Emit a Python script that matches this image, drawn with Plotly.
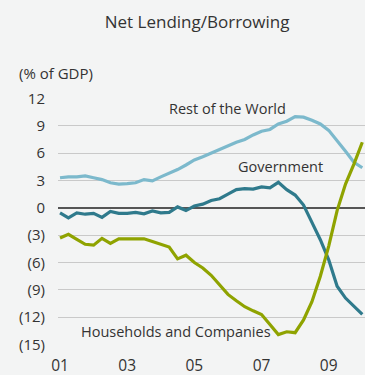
import plotly.graph_objects as go

quarters = [2001 + 0.25 * i for i in range(37)]

rest_of_world = [3.3, 3.4, 3.4, 3.5, 3.3, 3.1, 2.75, 2.6, 2.65, 2.75, 3.1, 2.95, 3.4,
                 3.8, 4.2, 4.7, 5.25, 5.6, 6.0, 6.35, 6.8, 7.2, 7.5, 8.0, 8.4, 8.6,
                 9.2, 9.5, 10.0, 9.95, 9.6, 9.2, 8.5, 7.4, 6.2, 5.0, 4.4]
government = [-0.55, -1.1, -0.55, -0.7, -0.6, -1.05, -0.4, -0.6, -0.6, -0.5, -0.65,
              -0.35, -0.55, -0.5, 0.1, -0.3, 0.2, 0.4, 0.8, 1.0, 1.5, 2.0, 2.1, 2.05,
              2.3, 2.2, 2.8, 2.0, 1.4, 0.3, -1.6, -3.5, -5.7, -8.6, -9.9, -10.8, -11.7]
households = [-3.3, -2.9, -3.45, -4.0, -4.1, -3.35, -3.9, -3.4, -3.4, -3.4, -3.4, -3.7,
              -4.0, -4.3, -5.6, -5.2, -6.0, -6.6, -7.4, -8.5, -9.5, -10.2, -10.85,
              -11.3, -11.7, -12.8, -13.9, -13.6, -13.7, -12.3, -10.3, -7.5, -4.2,
              -0.3, 2.6, 4.8, 7.2]

y_tickvals = [12, 9, 6, 3, 0, -3, -6, -9, -12, -15]
y_ticktext = ["12", "9", "6", "3", "0", "(3)", "(6)", "(9)", "(12)", "(15)"]
x_tickvals = [2001, 2003, 2005, 2007, 2009]
x_ticktext = ["01", "03", "05", "07", "09"]

series_names = ["Rest of the World", "Government", "Households and Companies"]
colors = ["#7cb9cc", "#2f7a8c", "#8fa300"]

font = "Open Sans"
txt = "#333333"
bg = "#f3f4f4"

fig = go.Figure()
for name, vals, c in zip(series_names, [rest_of_world, government, households], colors):
    fig.add_trace(go.Scatter(x=quarters, y=vals, mode="lines", name=name,
                             line=dict(color=c, width=3.2), showlegend=False))

fig.update_layout(
    width=365, height=375,
    margin=dict(l=58, r=0, t=98, b=30),
    paper_bgcolor=bg, plot_bgcolor=bg,
    font=dict(family=font, size=13, color=txt),
    title=dict(text="Net Lending/Borrowing", x=0.54, xanchor="center",
               y=0.942, yanchor="middle", font=dict(size=17, color=txt)),
    xaxis=dict(range=[2000.94, 2010.08], tickvals=x_tickvals, ticktext=x_ticktext,
               showgrid=False, zeroline=False, showline=False, ticks="",
               ticklabelstandoff=9,
               tickfont=dict(size=15.5, color=txt)),
    yaxis=dict(range=[-15.05, 12.05], tickvals=y_tickvals, ticktext=y_ticktext,
               showgrid=True, gridcolor="#c9c9c9", gridwidth=1,
               zeroline=True, zerolinecolor="#555555", zerolinewidth=1.5,
               showline=False, ticks="", ticklabelstandoff=12,
               tickfont=dict(size=15, color=txt)),
)

fig.add_annotation(text="(% of GDP)", xref="paper", yref="paper", x=-0.135, y=1.1,
                   xanchor="left", yanchor="middle", showarrow=False,
                   font=dict(size=15, color=txt))
fig.add_annotation(text="Rest of the World", x=2006.0, y=10.9, xanchor="center",
                   yanchor="middle", showarrow=False, font=dict(size=14.5, color=txt))
fig.add_annotation(text="Government", x=2007.55, y=4.5, xanchor="center",
                   yanchor="middle", showarrow=False, font=dict(size=14.5, color=txt))
fig.add_annotation(text="Households and Companies", x=2004.45, y=-13.55, xanchor="center",
                   yanchor="middle", showarrow=False, font=dict(size=14.5, color=txt))

fig.write_html("out.html")
